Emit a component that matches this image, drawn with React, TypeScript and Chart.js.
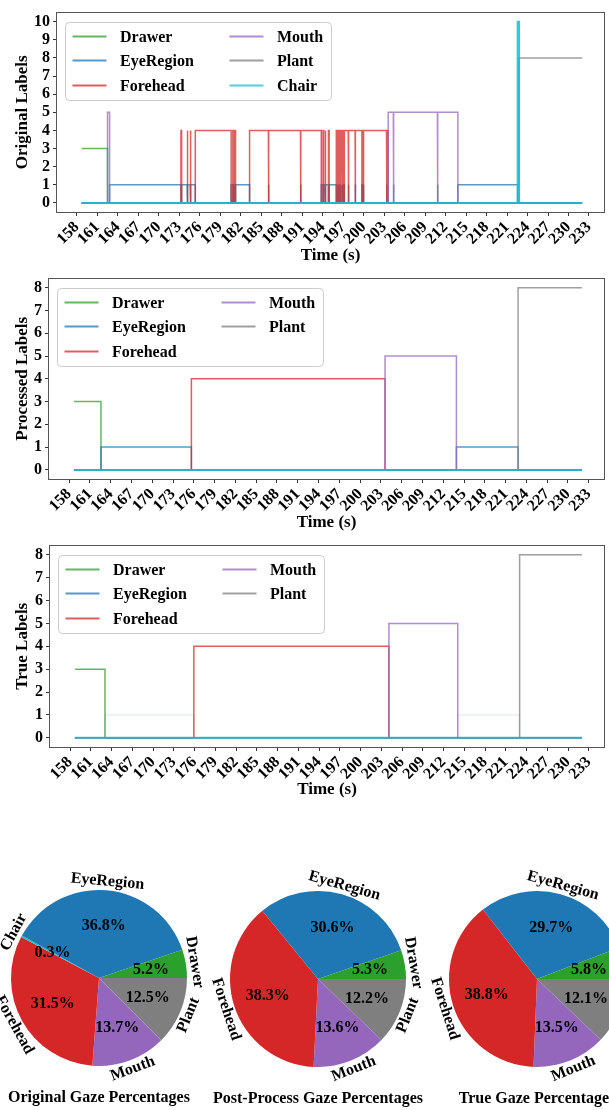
import React, { useEffect, useRef } from 'react';
import { Chart, registerables } from 'chart.js';

Chart.register(...registerables);

const FONT = "'Liberation Serif', 'Times New Roman', Times, serif";

// ---- categories ----
const CATEGORY_NAMES = ['Drawer', 'EyeRegion', 'Forehead', 'Mouth', 'Plant', 'Chair'];
const CATEGORY_CODES = [3, 1, 4, 5, 8, 10];
const CATEGORY_COLORS = ['#2ca02c', '#1f77b4', '#d62728', '#9467bd', '#7f7f7f', '#17becf'];

// ---- axes ----
const X_TICKS = [158, 161, 164, 167, 170, 173, 176, 179, 182, 185, 188, 191, 194, 197, 200, 203, 206, 209, 212, 215, 218, 221, 224, 227, 230, 233];
const ORIGINAL_Y_TICKS = [0, 1, 2, 3, 4, 5, 6, 7, 8, 9, 10];
const LABEL_Y_TICKS = [0, 1, 2, 3, 4, 5, 6, 7, 8];
const TIME_MIN = 155.1;
const TIME_MAX = 235.2;
const RECORDING_END = 232.0;

// ---- label timelines (time where a label starts, label code) ----
const ORIGINAL_SWITCH_TIMES = [
  158.7, 162.5, 162.8, 173.25, 173.35, 174.15, 174.25, 174.6, 174.7, 175.35,
  180.6, 180.85, 180.95, 181.15, 181.25, 183.3, 186.05, 186.12, 190.75, 190.82,
  193.8, 194.05, 194.15, 194.35, 194.45, 194.85, 194.95, 196.0, 196.15, 196.22,
  196.38, 196.45, 196.6, 196.68, 196.85, 196.92, 197.1, 197.18, 197.75, 197.82,
  198.75, 198.82, 199.75, 199.82, 199.95, 200.02, 203.35, 203.42, 203.6, 204.35,
  204.42, 210.8, 210.87, 213.8, 222.55, 222.75,
];
const ORIGINAL_SWITCH_LABELS = [
  3, 5, 1, 4, 1, 4, 1, 4, 1, 4,
  1, 4, 1, 4, 1, 4, 1, 4, 1, 4,
  1, 4, 1, 4, 1, 4, 1, 4, 1, 4,
  1, 4, 1, 4, 1, 4, 1, 4, 1, 4,
  1, 4, 1, 4, 1, 4, 1, 4, 5, 1,
  5, 1, 5, 1, 10, 8,
];
const PROCESSED_SWITCH_TIMES = [158.7, 162.6, 175.65, 203.6, 213.9, 222.8];
const PROCESSED_SWITCH_LABELS = [3, 1, 4, 5, 1, 8];
const TRUE_SWITCH_TIMES = [158.7, 163.05, 175.9, 204.1, 214.05, 223.0];
const TRUE_SWITCH_LABELS = [3, 1, 4, 5, 1, 8];

// ---- pie shares (%) ----
const ORIGINAL_PIE_NAMES = ['Drawer', 'EyeRegion', 'Chair', 'Forehead', 'Mouth', 'Plant'];
const ORIGINAL_PIE_SHARES = [5.2, 36.8, 0.3, 31.5, 13.7, 12.5];
const PROCESSED_PIE_NAMES = ['Drawer', 'EyeRegion', 'Forehead', 'Mouth', 'Plant'];
const PROCESSED_PIE_SHARES = [5.3, 30.6, 38.3, 13.6, 12.2];
const TRUE_PIE_NAMES = ['Drawer', 'EyeRegion', 'Forehead', 'Mouth', 'Plant'];
const TRUE_PIE_SHARES = [5.8, 29.7, 38.8, 13.5, 12.1];

function withAlpha(hex: string, a: number) {
  const n = parseInt(hex.slice(1), 16);
  return `rgba(${(n >> 16) & 255},${(n >> 8) & 255},${n & 255},${a})`;
}

function stepSeries(times: number[], labels: number[], code: number) {
  const pts: { x: number; y: number }[] = [];
  for (let i = 0; i < times.length; i++) {
    const t0 = times[i];
    const t1 = i + 1 < times.length ? times[i + 1] : RECORDING_END;
    const y = labels[i] === code ? code : 0;
    pts.push({ x: t0, y }, { x: t1, y });
  }
  return pts;
}

const framePlugin = {
  id: 'frame',
  afterDatasetsDraw(chart: any) {
    const { ctx, chartArea } = chart;
    ctx.save();
    ctx.strokeStyle = '#555';
    ctx.lineWidth = 1;
    ctx.strokeRect(
      Math.round(chartArea.left) - 0.5,
      Math.round(chartArea.top) - 0.5,
      Math.round(chartArea.right - chartArea.left) + 1,
      Math.round(chartArea.bottom - chartArea.top) + 1
    );
    ctx.restore();
  },
};

function makeLegendPlugin(names: string[]) {
  return {
    id: 'categoryLegend',
    afterDraw(chart: any) {
      const { ctx, chartArea } = chart;
      const x0 = Math.round(chartArea.left + 8) + 0.5;
      const y0 = Math.round(chartArea.top + 9) + 0.5;
      const w = 266;
      const h = 78;
      const r = 4;
      ctx.save();
      ctx.beginPath();
      ctx.moveTo(x0 + r, y0);
      ctx.arcTo(x0 + w, y0, x0 + w, y0 + h, r);
      ctx.arcTo(x0 + w, y0 + h, x0, y0 + h, r);
      ctx.arcTo(x0, y0 + h, x0, y0, r);
      ctx.arcTo(x0, y0, x0 + w, y0, r);
      ctx.closePath();
      ctx.fillStyle = 'rgba(255,255,255,0.85)';
      ctx.fill();
      ctx.strokeStyle = '#cccccc';
      ctx.lineWidth = 1;
      ctx.stroke();
      names.forEach((name, k) => {
        const i = CATEGORY_NAMES.indexOf(name);
        const col = Math.floor(k / 3);
        const row = k % 3;
        const lx = x0 + 7 + col * 157;
        const ly = Math.round(y0 + 13.5 + row * 24.3) + 0.5;
        ctx.strokeStyle = withAlpha(CATEGORY_COLORS[i], 0.75);
        ctx.lineWidth = 2;
        ctx.beginPath();
        ctx.moveTo(lx, ly);
        ctx.lineTo(lx + 34, ly);
        ctx.stroke();
        ctx.fillStyle = '#000';
        ctx.font = `bold 16px ${FONT}`;
        ctx.textAlign = 'left';
        ctx.textBaseline = 'middle';
        ctx.fillText(name, lx + 47.5, ly + 1);
      });
      ctx.restore();
    },
  };
}

type TimelineProps = {
  top: number;
  height: number;
  padTop: number;
  yWidth: number;
  xHeight: number;
  times: number[];
  labels: number[];
  yTicks: number[];
  yMin: number;
  yMax: number;
  yTitle: string;
  legend: string[];
  faint: string[];
};

function LabelTimeline(p: TimelineProps) {
  const ref = useRef<HTMLCanvasElement | null>(null);
  useEffect(() => {
    const datasets = CATEGORY_NAMES.map((name, i) => ({
      label: name,
      data: stepSeries(p.times, p.labels, CATEGORY_CODES[i]),
      borderColor: withAlpha(
        CATEGORY_COLORS[i],
        p.faint.includes(name) ? 0.12 : name === 'Chair' ? 0.85 : 0.75
      ),
      borderWidth: name === 'Chair' ? 2 : 1.5,
      pointRadius: 0,
      pointHoverRadius: 0,
      fill: false,
      tension: 0,
      order: CATEGORY_NAMES.length - i,
    }));
    const tickFont = { family: FONT, size: 16, weight: 'bold' as const };
    const chart = new Chart(ref.current as HTMLCanvasElement, {
      type: 'line',
      data: { datasets },
      options: {
        responsive: false,
        animation: false,
        events: [],
        layout: { padding: { top: p.padTop, left: 12, right: 5, bottom: 0 }, autoPadding: false },
        plugins: { legend: { display: false }, tooltip: { enabled: false }, title: { display: false } },
        scales: {
          x: {
            type: 'linear',
            min: TIME_MIN,
            max: TIME_MAX,
            afterBuildTicks: (s: any) => {
              s.ticks = X_TICKS.map((v) => ({ value: v }));
            },
            afterFit: (s: any) => {
              s.height = p.xHeight;
            },
            ticks: {
              autoSkip: false,
              minRotation: 45,
              maxRotation: 45,
              color: '#000',
              padding: 2,
              font: tickFont,
              callback: (v: any) => String(v),
            },
            grid: { display: true, drawOnChartArea: false, drawTicks: true, tickLength: 4, tickColor: '#333', color: '#333' },
            border: { display: false },
            title: { display: true, text: 'Time (s)', color: '#000', padding: 0, font: { family: FONT, size: 17, weight: 'bold' } },
          },
          y: {
            type: 'linear',
            min: p.yMin,
            max: p.yMax,
            afterBuildTicks: (s: any) => {
              s.ticks = p.yTicks.map((v) => ({ value: v }));
            },
            afterFit: (s: any) => {
              s.width = p.yWidth;
            },
            ticks: { autoSkip: false, color: '#000', padding: 3, font: tickFont, callback: (v: any) => String(v) },
            grid: { display: true, drawOnChartArea: false, drawTicks: true, tickLength: 4, tickColor: '#333', color: '#333' },
            border: { display: false },
            title: { display: true, text: p.yTitle, color: '#000', padding: 0, font: { family: FONT, size: 17, weight: 'bold' } },
          },
        },
      } as any,
      plugins: [framePlugin, makeLegendPlugin(p.legend)],
    });
    return () => chart.destroy();
  }, []);
  return (
    <canvas
      ref={ref}
      width={609}
      height={p.height}
      style={{ position: 'absolute', left: 0, top: p.top, width: 609, height: p.height }}
    />
  );
}

function makePieTextPlugin(title: string) {
  return {
    id: 'pieText',
    afterDraw(chart: any) {
      const { ctx } = chart;
      const meta = chart.getDatasetMeta(0);
      const values = chart.data.datasets[0].data as number[];
      const names = chart.data.labels as string[];
      ctx.save();
      ctx.fillStyle = '#000';
      ctx.font = `bold 16px ${FONT}`;
      ctx.textAlign = 'center';
      ctx.textBaseline = 'middle';
      meta.data.forEach((arc: any, i: number) => {
        const { x, y, startAngle, endAngle, outerRadius } = arc.getProps(['x', 'y', 'startAngle', 'endAngle', 'outerRadius'], true);
        const mid = (startAngle + endAngle) / 2;
        ctx.fillText(values[i].toFixed(1) + '%', x + Math.cos(mid) * outerRadius * 0.6, y + Math.sin(mid) * outerRadius * 0.6);
        let a = mid + Math.PI / 2;
        while (a > Math.PI / 2) a -= Math.PI;
        while (a <= -Math.PI / 2) a += Math.PI;
        ctx.save();
        ctx.translate(x + Math.cos(mid) * outerRadius * 1.1, y + Math.sin(mid) * outerRadius * 1.1);
        ctx.rotate(a);
        ctx.fillText(names[i], 0, 0);
        ctx.restore();
      });
      ctx.fillText(title, chart.width / 2, chart.height - 10);
      ctx.restore();
    },
  };
}

function GazePie({ left, top, names, shares, title }: { left: number; top: number; names: string[]; shares: number[]; title: string }) {
  const ref = useRef<HTMLCanvasElement | null>(null);
  useEffect(() => {
    // reversed so that the clockwise drawing reproduces a counter-clockwise pie starting at 3 o'clock
    const idx = names.map((_, i) => names.length - 1 - i);
    const labels = idx.map((i) => names[i]);
    const values = idx.map((i) => shares[i]);
    const colors = labels.map((n) => CATEGORY_COLORS[CATEGORY_NAMES.indexOf(n)]);
    const chart = new Chart(ref.current as HTMLCanvasElement, {
      type: 'pie',
      data: { labels, datasets: [{ data: values, backgroundColor: colors, borderWidth: 0 }] },
      options: {
        responsive: false,
        animation: false,
        events: [],
        rotation: 90,
        radius: 88,
        layout: { padding: 0 },
        plugins: { legend: { display: false }, tooltip: { enabled: false }, title: { display: false } },
      } as any,
      plugins: [makePieTextPlugin(title)],
    });
    return () => chart.destroy();
  }, []);
  return (
    <canvas
      ref={ref}
      width={320}
      height={260}
      style={{ position: 'absolute', left, top, width: 320, height: 260 }}
    />
  );
}

export default function App() {
  return (
    <div style={{ position: 'absolute', left: 0, top: 0, width: 609, height: 1110, overflow: 'hidden', background: '#fff' }}>
      <LabelTimeline
        top={0}
        height={266}
        padTop={6}
        yWidth={45}
        xHeight={54}
        times={ORIGINAL_SWITCH_TIMES}
        labels={ORIGINAL_SWITCH_LABELS}
        yTicks={ORIGINAL_Y_TICKS}
        yMin={-0.5}
        yMax={10.5}
        yTitle="Original Labels"
        legend={['Drawer', 'EyeRegion', 'Forehead', 'Mouth', 'Plant', 'Chair']}
        faint={[]}
      />
      <LabelTimeline
        top={266}
        height={267}
        padTop={4}
        yWidth={37}
        xHeight={54}
        times={PROCESSED_SWITCH_TIMES}
        labels={PROCESSED_SWITCH_LABELS}
        yTicks={LABEL_Y_TICKS}
        yMin={-0.4}
        yMax={8.4}
        yTitle="Processed Labels"
        legend={['Drawer', 'EyeRegion', 'Forehead', 'Mouth', 'Plant']}
        faint={[]}
      />
      <LabelTimeline
        top={533}
        height={267}
        padTop={4}
        yWidth={38}
        xHeight={53}
        times={TRUE_SWITCH_TIMES}
        labels={TRUE_SWITCH_LABELS}
        yTicks={LABEL_Y_TICKS}
        yMin={-0.4}
        yMax={8.4}
        yTitle="True Labels"
        legend={['Drawer', 'EyeRegion', 'Forehead', 'Mouth', 'Plant']}
        faint={['EyeRegion']}
      />
      <GazePie left={-61} top={848} names={ORIGINAL_PIE_NAMES} shares={ORIGINAL_PIE_SHARES} title="Original Gaze Percentages" />
      <GazePie left={158} top={849} names={PROCESSED_PIE_NAMES} shares={PROCESSED_PIE_SHARES} title="Post-Process Gaze Percentages" />
      <GazePie left={377} top={849} names={TRUE_PIE_NAMES} shares={TRUE_PIE_SHARES} title="True Gaze Percentages" />
    </div>
  );
}
